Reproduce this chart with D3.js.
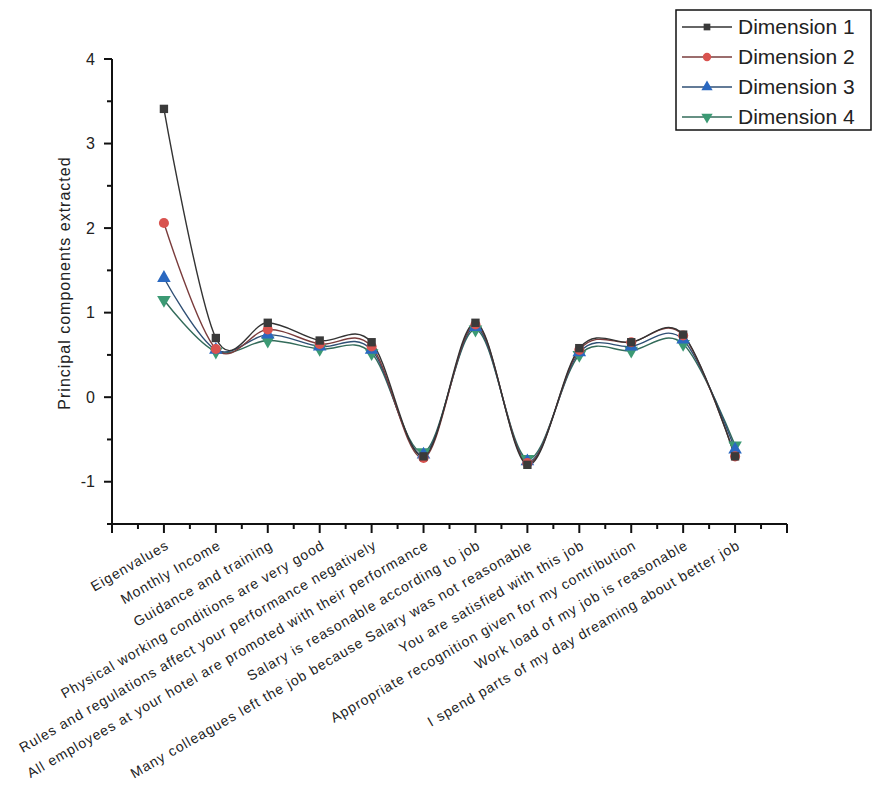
<!DOCTYPE html>
<html lang="en">
<head>
<meta charset="UTF-8">
<title>Principal components</title>
<script src="https://cdnjs.cloudflare.com/ajax/libs/d3/7.8.5/d3.min.js"></script>
<style>
    body { margin: 0; background: #fff; }
    svg text { font-family: "Liberation Sans", Arial, sans-serif; fill: #222; }
</style>
</head>
<body>
<svg width="874" height="799"></svg>
<script>
    var categories = [
        "Eigenvalues",
        "Monthly Income",
        "Guidance and training",
        "Physical working conditions are very good",
        "Rules and regulations affect your performance negatively",
        "All employees at your hotel are promoted with their performance",
        "Salary is reasonable according to job",
        "Many colleagues left the job because Salary was not reasonable",
        "You are satisfied with this job",
        "Appropriate recognition given for my contribution",
        "Work load of my job is reasonable",
        "I spend parts of my day dreaming about better job"
    ];
    var dim1 = [3.41, 0.70, 0.88, 0.67, 0.65, -0.70, 0.88, -0.80, 0.58, 0.65, 0.74, -0.70];
    var dim2 = [2.06, 0.57, 0.80, 0.63, 0.60, -0.72, 0.86, -0.78, 0.56, 0.65, 0.73, -0.70];
    var dim3 = [1.41, 0.56, 0.74, 0.60, 0.56, -0.68, 0.83, -0.76, 0.53, 0.60, 0.68, -0.62];
    var dim4 = [1.15, 0.54, 0.67, 0.57, 0.52, -0.65, 0.80, -0.73, 0.50, 0.55, 0.63, -0.57];
    var seriesNames = ["Dimension 1", "Dimension 2", "Dimension 3", "Dimension 4"];
    var yTicks = [-1, 0, 1, 2, 3, 4];

    var series = [
        {name: seriesNames[0], values: dim1, color: "#3a3a3a", lineColor: "#333333", symbol: d3.symbolSquare},
        {name: seriesNames[1], values: dim2, color: "#d9534f", lineColor: "#7a3c3c", symbol: d3.symbolCircle},
        {name: seriesNames[2], values: dim3, color: "#2a68c0", lineColor: "#2f4f74", symbol: d3.symbolTriangle},
        {name: seriesNames[3], values: dim4, color: "#3c9a74", lineColor: "#336b5a", symbol: d3.symbolTriangle, flip: true}
    ];

    var svg = d3.select("svg");
    var x = d3.scaleLinear().domain([0, 13]).range([112, 787]);
    var y = d3.scaleLinear().domain([-1.5, 4]).range([524, 59]);

    // y axis
    var yAxis = svg.append("g").attr("transform", "translate(112,0)");
    yAxis.append("line").attr("x1", 0).attr("x2", 0).attr("y1", y(4)).attr("y2", y(-1.5))
        .attr("stroke", "#111").attr("stroke-width", 2);
    d3.range(-1.5, 4.01, 0.5).forEach(function (v) {
        var major = Math.abs(v - Math.round(v)) < 0.01;
        yAxis.append("line").attr("x1", 0).attr("x2", major ? -8 : -5)
            .attr("y1", y(v)).attr("y2", y(v)).attr("stroke", "#111").attr("stroke-width", 2);
    });
    yAxis.selectAll("text.tick").data(yTicks).enter().append("text")
        .attr("x", -17).attr("y", function (d) { return y(d); })
        .attr("dy", "0.35em").attr("text-anchor", "end")
        .style("font-size", "16px").text(function (d) { return d; });

    svg.append("text")
        .attr("transform", "translate(70," + y(1.35) + ") rotate(-90)")
        .attr("text-anchor", "middle")
        .style("font-size", "16px")
        .style("letter-spacing", "1px")
        .text("Principal components extracted");

    // x axis
    var xAxis = svg.append("g").attr("transform", "translate(0,524)");
    xAxis.append("line").attr("x1", x(0)).attr("x2", x(13)).attr("y1", 0).attr("y2", 0)
        .attr("stroke", "#111").attr("stroke-width", 2);
    d3.range(0, 13.01, 0.5).forEach(function (v) {
        var major = Math.abs(v - Math.round(v)) < 0.01;
        xAxis.append("line").attr("x1", x(v)).attr("x2", x(v)).attr("y1", 0).attr("y2", major ? 9 : 5)
            .attr("stroke", "#111").attr("stroke-width", 2);
    });
    xAxis.selectAll("text.cat").data(categories).enter().append("text")
        .attr("text-anchor", "end")
        .attr("transform", function (d, i) {
            return "translate(" + (x(i + 1) + 6) + ",24) rotate(-30)";
        })
        .style("font-size", "14px")
        .style("letter-spacing", "1px")
        .text(function (d) { return d; });

    // lines
    var line = d3.line()
        .x(function (d, i) { return x(i + 1); })
        .y(function (d) { return y(d); })
        .curve(d3.curveCardinal.tension(0));

    series.slice().reverse().forEach(function (s) {
        svg.append("path").attr("d", line(s.values))
            .attr("fill", "none").attr("stroke", s.lineColor).attr("stroke-width", 1.4);
    });
    series.slice().reverse().forEach(function (s) {
        svg.selectAll(null).data(s.values).enter().append("path")
            .attr("d", d3.symbol().type(s.symbol).size(s.symbol === d3.symbolSquare ? 70 : 80))
            .attr("transform", function (d, i) {
                return "translate(" + x(i + 1) + "," + y(d) + ")" + (s.flip ? " rotate(180)" : "");
            })
            .attr("fill", s.color);
    });

    // legend
    var lg = svg.append("g").attr("transform", "translate(676,10)");
    lg.append("rect").attr("x", 0).attr("y", 0).attr("width", 195).attr("height", 120)
        .attr("fill", "#fff").attr("stroke", "#111").attr("stroke-width", 1.5);
    series.forEach(function (s, i) {
        var row = lg.append("g").attr("transform", "translate(0," + (17 + i * 30) + ")");
        row.append("line").attr("x1", 6).attr("x2", 56).attr("y1", 0).attr("y2", 0)
            .attr("stroke", s.lineColor).attr("stroke-width", 1.5);
        row.append("path")
            .attr("d", d3.symbol().type(s.symbol).size(s.symbol === d3.symbolSquare ? 45 : 55))
            .attr("transform", "translate(31,0)" + (s.flip ? " rotate(180)" : ""))
            .attr("fill", s.color);
        row.append("text").attr("x", 62).attr("y", 0).attr("dy", "0.35em")
            .style("font-size", "21px").text(s.name);
    });
</script>
</body>
</html>
